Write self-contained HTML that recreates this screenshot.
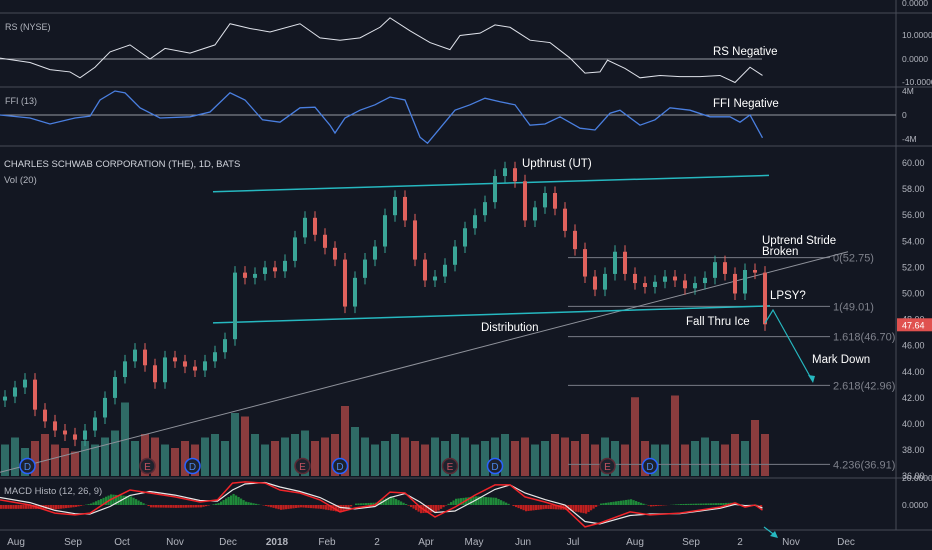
<!DOCTYPE html>
<html><head><meta charset="utf-8"><style>
html,body{margin:0;padding:0;background:#131722;width:932px;height:550px;overflow:hidden}
svg{display:block;font-family:"Liberation Sans Narrow","Liberation Sans",sans-serif}
</style></head><body>
<svg id="c" width="932" height="550" viewBox="0 0 932 550">
<rect x="0" y="0" width="932" height="550" fill="#131722"/>
</svg>
<script>
// ---- data ----
const candleStartDay = 2, candleStepDays = 4;
const closes = [42.1,42.8,43.4,41.1,40.2,39.5,39.2,38.8,39.5,40.5,42,43.6,44.8,45.7,44.5,43.2,45.1,44.8,44.4,44.1,44.8,45.5,46.5,51.6,51.2,51.5,52,51.7,52.5,54.3,55.8,54.5,53.5,52.6,49,51.2,52.6,53.6,56,57.4,55.6,52.6,51,51.3,52.2,53.6,55,56,57,59,59.6,58.6,55.6,56.6,57.7,56.5,54.8,53.4,51.3,50.3,51.5,53.2,51.5,50.8,50.5,50.9,51.3,51,50.4,50.8,51.2,52.4,51.5,50,51.8,51.6,47.64];
const volumes = [9,11,8,10,12,9,8,7,10,9,11,13,21,10,12,11,9,8,10,9,11,12,10,18,17,12,9,10,11,12,13,10,11,12,20,14,11,9,10,12,11,10,9,11,10,12,11,9,10,11,12,10,11,9,10,12,11,10,12,9,11,10,9,22.5,10,9,9,23,9,10,11,10,9,12,10,16,12];
const rsDays = [0,12,20,28,32,38,44,52,60,66,76,86,92,100,108,120,128,136,144,152,156,164,172,180,184,192,198,204,212,220,228,234,240,243,250,256,264,272,280,288,294,300,305];
const rsVals = [0.4,-1.5,-4.5,-5.5,-8,-3.5,3,6,0,4.5,2.5,6,15,13,11.5,15,9,8,9,13.5,17.5,12,7,4,10,11,14.5,13.5,8,7,0.4,-6,-5.5,-0.5,-4,-8,-7,-7.5,-7.5,-7,-10,-3.5,-7];
const ffiDays = [0,12,20,30,36,40,46,50,56,64,76,84,92,98,105,112,120,126,132,134,138,144,150,156,162,168,171,176,182,188,194,200,206,212,218,224,232,238,244,248,256,262,268,276,284,292,296,300,305];
const ffiVals = [0,-0.5,-1.5,-0.5,-0.2,2.5,4,3.7,1.2,-0.5,-0.3,0.5,3.7,2.5,-0.8,-1.2,1.2,1.3,-1.7,-3,-0.5,0.8,1.7,3,2.5,-3.7,-4.7,-2.2,0.8,1.7,2.8,2.2,1.7,-1.7,-1.5,-0.3,-2.2,-2.5,0.3,0.8,-1.7,-0.8,1.2,0.8,-0.3,-0.3,-1.2,0,-3.8];
const macdDays = [0,12,22,30,36,44,52,60,70,80,87,93,98,106,112,120,128,136,142,150,156,162,168,174,182,190,198,204,210,218,226,234,240,252,260,272,280,288,294,298,302,305];
const macdVals = [1.7,0,-2.7,-3.3,-2.7,1.7,5,4,2.7,1,1.7,7.3,7.7,7.3,5,4,1.7,-2.3,-1,0,4.3,4,-0.7,-4,-0.7,3.3,6.7,6.7,2.7,1,-1,-7.3,-6,-2.3,-3.3,-2.7,-1.7,-0.7,0.7,-0.7,0,-1.7];
const signalVals = [2.5,0.8,-1.8,-2.9,-3,-0.5,3.2,4.5,3.3,1.5,1.3,5,7,7.5,6,4.5,2.5,-0.8,-1.3,-0.5,2.5,3.8,1,-2.5,-2,1.5,5.2,6.7,4,1.8,0,-5.5,-6.3,-3.5,-3,-2.9,-2,-1.1,0.2,-0.2,-0.1,-1];
const priceTicks = [60,58,56,54,52,50,48,46,44,42,40,38,36];
const fibLevels = [52.75,49.01,46.70,42.96,36.91];
const fibLabels = ["0(52.75)","1(49.01)","1.618(46.70)","2.618(42.96)","4.236(36.91)"];
const monthLabels = ["Aug","Sep","Oct","Nov","Dec","2018","Feb","2","Apr","May","Jun","Jul","Aug","Sep","2","Nov","Dec"];
const monthDays = [6.4,29.2,48.8,70,91.2,110.8,130.8,150.8,170.4,189.6,209.2,229.2,254,276.4,296,316.4,338.4];
const events = [["D",11],["E",59],["D",77],["E",121],["D",136],["E",180],["D",198],["E",243],["D",260]];

// ---- scales ----
const xDay = d => d*2.5;
const yPrice = p => 163 + (60-p)*13.05;
const yRS = v => 59 - v*2.35;
const yFFI = v => 115 - v*6;
const yMACD = v => 505 - v*3;
const yVol = v => 476 - v*3.5;

const svg = document.getElementById('c');
const NS = 'http://www.w3.org/2000/svg';
function mk(tag, attrs, parent){const e=document.createElementNS(NS,tag);for(const k in attrs)e.setAttribute(k,attrs[k]);(parent||svg).appendChild(e);return e;}
function txt(x,y,s,size,fill,anchor){const t=mk('text',{x:x,y:y,'font-size':size,fill:fill,'text-anchor':anchor||'start'});t.textContent=s;return t;}

// panel separators
[[13],[87],[146],[478],[530]].forEach(([y])=>{
  const l=mk('line',{x1:0,x2:932,y1:y,y2:y,stroke:'#474b57','stroke-width':1});
  
  
});
const ax=mk('line',{x1:896,x2:896,y1:0,y2:530,stroke:'#474b57','stroke-width':1});



// volume
const gVol=mk('g',{});


volumes.forEach((v,i)=>{
  const d=candleStartDay+i*candleStepDays, x=xDay(d);
  const up = closes[i] >= (i? closes[i-1]:closes[i]);
  const r=mk('rect',{x:x-4,y:yVol(v),width:8,height:476-yVol(v),fill:up?'#2f6b66':'#8a3c3e'},gVol);
  
  
});

// fib levels
fibLevels.forEach((p,i)=>{
  const l=mk('line',{x1:568,x2:830,y1:yPrice(p),y2:yPrice(p),stroke:'#787b86','stroke-width':1});
  
  
  const t=txt(833,yPrice(p)+4,fibLabels[i],11,'#7e818b');
  
  
});

// trend lines
const tl=mk('line',{x1:0,y1:yPrice(36.3),x2:848,y2:yPrice(53.2),stroke:'#8f929b','stroke-width':1});


const ct=mk('line',{x1:213,y1:yPrice(57.8),x2:769,y2:yPrice(59.05),stroke:'#26b8c0','stroke-width':1.5});


const cb=mk('line',{x1:213,y1:yPrice(47.75),x2:770,y2:yPrice(49.05),stroke:'#26b8c0','stroke-width':1.5});



// candles
const gC=mk('g',{});


closes.forEach((c,i)=>{
  const o = i? closes[i-1] : c-0.3;
  const x=xDay(candleStartDay+i*candleStepDays);
  const up=c>=o, col=up?'#3aa597':'#e0625d';
  const hi=Math.max(o,c)+0.5, lo=Math.min(o,c)-0.5;
  const w=mk('line',{x1:x,x2:x,y1:yPrice(hi),y2:yPrice(lo),stroke:col,'stroke-width':1},gC);
  
  
  const top=yPrice(Math.max(o,c)), bot=yPrice(Math.min(o,c));
  const b=mk('rect',{x:x-2,y:top,width:4,height:Math.max(1,bot-top),fill:col},gC);
  
  
});

// events
events.forEach(([k,d])=>{
  const x=xDay(d);
  const c=mk('circle',{cx:x,cy:466,r:7.5,fill:'#1e222d',stroke:k==='D'?'#2962ff':'#5a2a35','stroke-width':1.5});
  
  
  const t=txt(x,470,k,10,k==='D'?'#4a86e8':'#c25260','middle');
  
  
});

// RS
const rz=mk('line',{x1:0,x2:762,y1:yRS(0),y2:yRS(0),stroke:'#9598a1','stroke-width':1});


const rsP=mk('polyline',{points:rsDays.map((d,i)=>xDay(d)+','+yRS(rsVals[i])).join(' '),fill:'none',stroke:'#e0e3eb','stroke-width':1});



// FFI
const fz=mk('line',{x1:0,x2:896,y1:yFFI(0),y2:yFFI(0),stroke:'#9598a1','stroke-width':1});


const ffP=mk('polyline',{points:ffiDays.map((d,i)=>xDay(d)+','+yFFI(ffiVals[i])).join(' '),fill:'none',stroke:'#4a7fe0','stroke-width':1.3});



// MACD histogram (drawn as thin bars following macd - signal)
const gH=mk('g',{});


for(let i=0;i<macdDays.length-1;i++){
  const d0=macdDays[i], d1=macdDays[i+1];
  const h0=(macdVals[i]-signalVals[i])*1.6, h1=(macdVals[i+1]-signalVals[i+1])*1.6;
  for(let d=d0; d<d1; d+=1){
    const t=(d-d0)/(d1-d0), h=h0+(h1-h0)*t;
    const r=mk('rect',{x:xDay(d),y:h>0?yMACD(h):505,width:2.2,height:Math.abs(h*3),fill:h>0?'#1f8a3a':'#c0201f'},gH);
    
    
  }
}
const sgP=mk('polyline',{points:macdDays.map((d,i)=>xDay(d)+','+yMACD(signalVals[i])).join(' '),fill:'none',stroke:'#e8e8e8','stroke-width':1.2});


const mcP=mk('polyline',{points:macdDays.map((d,i)=>xDay(d)+','+yMACD(macdVals[i])).join(' '),fill:'none',stroke:'#f0252a','stroke-width':1.5});



// arrows
const a1=mk('polyline',{points:'765,323 773,310 812,380',fill:'none',stroke:'#26b8c0','stroke-width':1.2});


const ah=mk('polygon',{points:'813,383 808,375 815,376',fill:'#26b8c0'});


const a2=mk('polyline',{points:'764,527 776,536',fill:'none',stroke:'#26b8c0','stroke-width':1.2});


const ah2=mk('polygon',{points:'778,538 770,536 775,531',fill:'#26b8c0'});



// axis labels
const axTicks=[["0.0000",6],["10.0000",38],["0.0000",62],["-10.0000",85],["4M",94],["0",118],["-4M",142],["20.0000",481],["0.0000",508]];
axTicks.forEach(([s,y])=>{const t=txt(902,y,s,8.5,'#b2b5be');
  
  });
priceTicks.forEach(p=>{const t=txt(902,yPrice(p)+3,p.toFixed(2),9,'#b2b5be');
  
  });
const pb=mk('rect',{x:897,y:yPrice(47.64)-6,width:35,height:13,fill:'#e0514f'});


const pt=txt(902,yPrice(47.64)+4,'47.64',9,'#ffffff');


monthLabels.forEach((s,i)=>{const t=txt(xDay(monthDays[i]),545,s,10,'#b2b5be','middle');
  if(s==='2018')t.setAttribute('font-weight','bold');
  
  });

// panel titles & annotations
const labels=[["RS (NYSE)",5,30,9,'#b2b5be','rs-title'],["FFI (13)",5,104,9,'#b2b5be','ffi-title'],
["CHARLES SCHWAB CORPORATION (THE), 1D, BATS",4,167,9.5,'#d1d4dc','symbol-title'],["Vol (20)",4,183,9.5,'#b2b5be','volume-title'],
["MACD Histo (12, 26, 9)",4,494,9.5,'#b2b5be','macd-title'],
["RS Negative",713,55,11.5,'#ffffff','rs-negative-note'],["FFI Negative",713,107,11.5,'#ffffff','ffi-negative-note'],
["Upthrust (UT)",522,167,11.5,'#ffffff','upthrust-note'],["Distribution",481,331,11.5,'#ffffff','distribution-note'],
["Uptrend Stride",762,244,11.5,'#ffffff','uptrend-stride-note'],["Broken",762,255,11.5,'#ffffff','broken-note'],
["LPSY?",770,299,11.5,'#ffffff','lpsy-note'],["Fall Thru Ice",686,325,11.5,'#ffffff','fall-thru-ice-note'],
["Mark Down",812,363,11.5,'#ffffff','mark-down-note']];
labels.forEach(([s,x,y,sz,c,n])=>{const t=txt(x,y,s,sz,c);
  
  });
</script>
</body></html>
